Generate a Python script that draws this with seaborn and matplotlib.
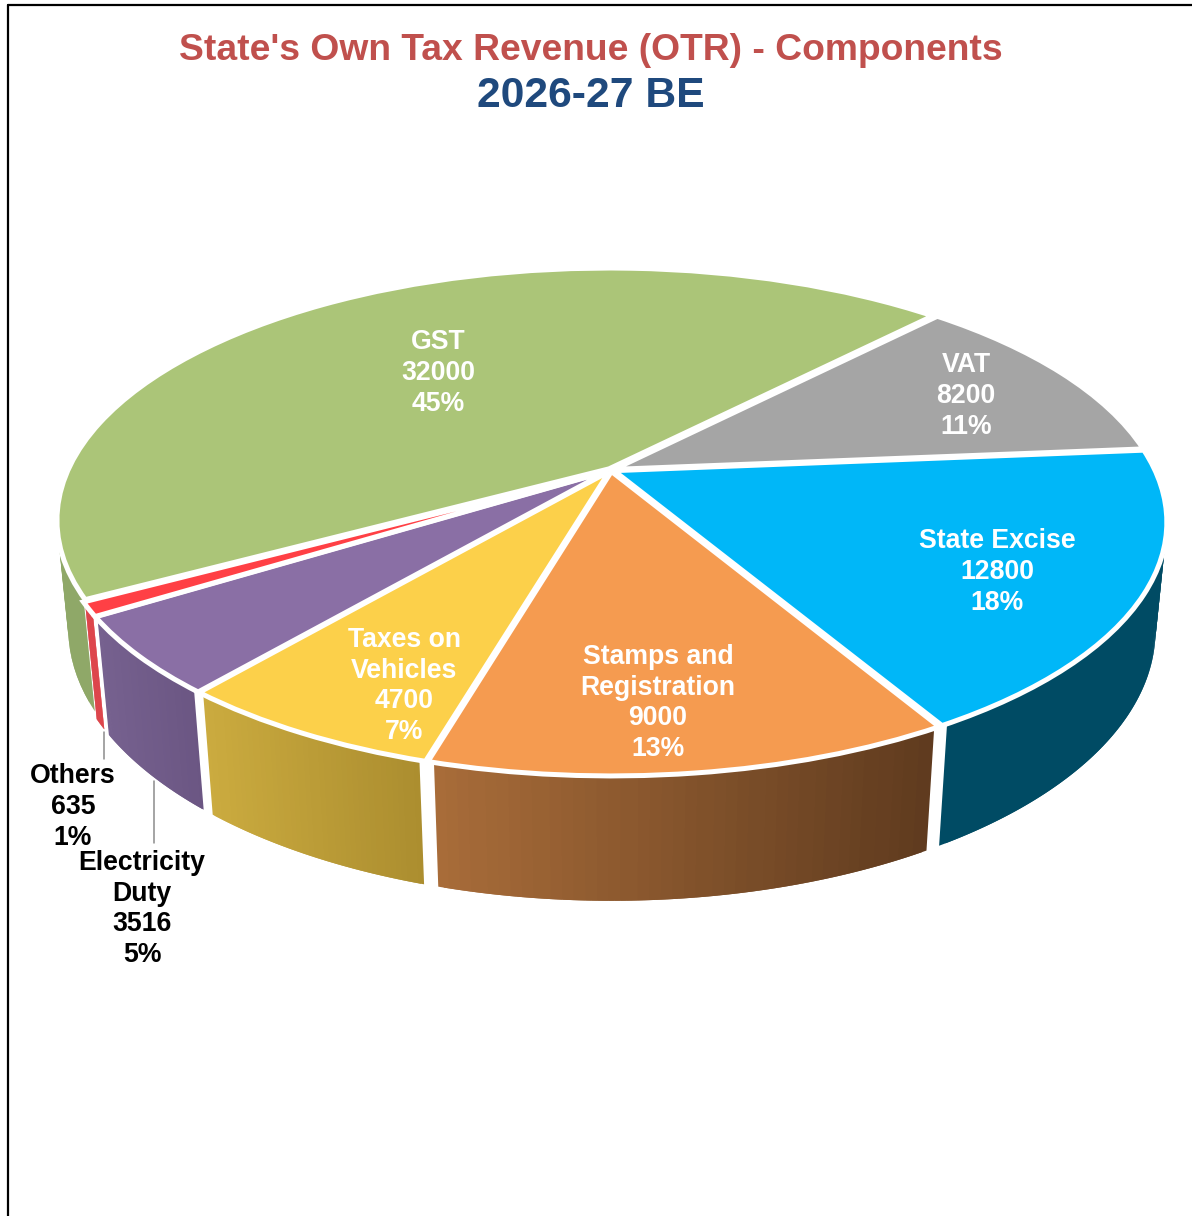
import numpy as np
import matplotlib
matplotlib.use("Agg")
import matplotlib.pyplot as plt
from matplotlib.collections import PolyCollection
from matplotlib.transforms import Transform
import seaborn as sns

# ---- data -------------------------------------------------------------
categories = ["GST", "VAT", "State Excise", "Stamps and\nRegistration",
              "Taxes on\nVehicles", "Electricity\nDuty", "Others"]
values = [32000, 8200, 12800, 9000, 4700, 3516, 635]
percents = [45, 11, 18, 13, 7, 5, 1]
title_main = "State's Own Tax Revenue (OTR) - Components"
title_sub = "2026-27 BE"

top_colors = ["#ABC578", "#A5A5A5", "#00B7F8", "#F59B50", "#FCD04A", "#8A6FA5", "#FF4045"]
wall_left = ["#8FA868", "#858585", "#004B64", "#A86C39", "#CBAB3F", "#76618F", "#DD333A"]
wall_right = ["#8FA868", "#858585", "#004B64", "#5E3A1E", "#AB8D2F", "#6B5683", "#DD333A"]
label_colors = ["white", "white", "white", "white", "white", "black", "black"]
label_xy = [(438, 373), (966, 396), (997, 572), (658, 703), (404, 686), (142, 909), (73, 807)]

# ---- perspective of the pie ---------------------------------------------
CX, CY = 611.0, 470.0
RX, RY, Q = 541.0, 242.0, 0.203
THICK, DEPTH = 108.0, 0.02


def project(x, y, z=0.0):
    """Pie plane (x, y up) to pixel position; z=1 is the bottom rim."""
    v = -np.asarray(y, float)
    w = 1 - Q * v + DEPTH * z
    return CX + RX * np.asarray(x, float) / w, CY + (RY * v + THICK * z) / w


class PieProjection(Transform):
    input_dims = output_dims = 2
    is_affine = False
    has_inverse = False

    def transform_non_affine(self, pts):
        pts = np.asarray(pts, float)
        return np.column_stack(project(pts[:, 0], pts[:, 1]))


sns.set_theme(style="white")
plt.rcParams["font.family"] = ["Liberation Sans", "DejaVu Sans"]
palette = sns.color_palette(top_colors)

fig = plt.figure(figsize=(11.92, 12.16), dpi=100, facecolor="white")
ax = fig.add_axes([0, 0, 1, 1])

wedges, _ = ax.pie(values, colors=palette, startangle=209.2, counterclock=False,
                   explode=[0.006] * len(values), radius=1.0,
                   wedgeprops=dict(edgecolor="white", linewidth=3.6, zorder=3))
ax.set_aspect("auto")
ax.set_xlim(0, 1192)
ax.set_ylim(1216, 0)
ax.set_axis_off()

proj = PieProjection() + ax.transData
for wedge in wedges:
    wedge.set_transform(proj)

# walls below the rim of every slice
INSET = 0.55
for i, wedge in enumerate(wedges):
    cx0, cy0 = wedge.center
    theta = np.radians(np.linspace(wedge.theta1 + INSET, wedge.theta2 - INSET, 90))
    xs = cx0 + wedge.r * np.cos(theta)
    ys = cy0 + wedge.r * np.sin(theta)
    xt, yt = project(xs, ys, 0.0)
    xb, yb = project(xs, ys, 1.0)
    xmin, xmax = xt.min(), xt.max()
    shades = sns.blend_palette([wall_left[i], wall_right[i]], 40)
    quads, cols = [], []
    for j in range(len(theta) - 2):
        quads.append([(xt[j], yt[j]), (xt[j + 1], yt[j + 1]), (xt[j + 2], yt[j + 2]),
                      (xb[j + 2], yb[j + 2]), (xb[j + 1], yb[j + 1]), (xb[j], yb[j])])
        frac = (xt[j + 1] - xmin) / max(xmax - xmin, 1e-6)
        cols.append(shades[int(np.clip(frac * 39, 0, 39))])
    ax.add_collection(PolyCollection(quads, facecolors=cols, edgecolors="none", zorder=1))

# frame of the chart area
ax.plot([8, 8], [1216, 5], color="black", lw=1.6, zorder=5)
ax.plot([8, 1192], [5, 5], color="black", lw=1.6, zorder=5)

# leader lines of the outside labels
ax.plot([104, 104], [732, 759], color="#8C8C8C", lw=1.1, zorder=2)
ax.plot([154, 154], [781, 843], color="#8C8C8C", lw=1.1, zorder=2)

ax.text(591, 50, title_main, ha="center", va="center", fontsize=26.8, fontweight="bold", color="#C0504D", zorder=6)
ax.text(591, 96, title_sub, ha="center", va="center", fontsize=30.7, fontweight="bold", color="#1F497D", zorder=6)

for name, val, pct, col, (lx, ly) in zip(categories, values, percents, label_colors, label_xy):
    ax.text(lx, ly, f"{name}\n{val}\n{pct}%", ha="center", va="center", fontsize=19.2,
            fontweight="bold", color=col, linespacing=1.24, zorder=6)

fig.savefig("out.png", dpi=100, facecolor="white")
